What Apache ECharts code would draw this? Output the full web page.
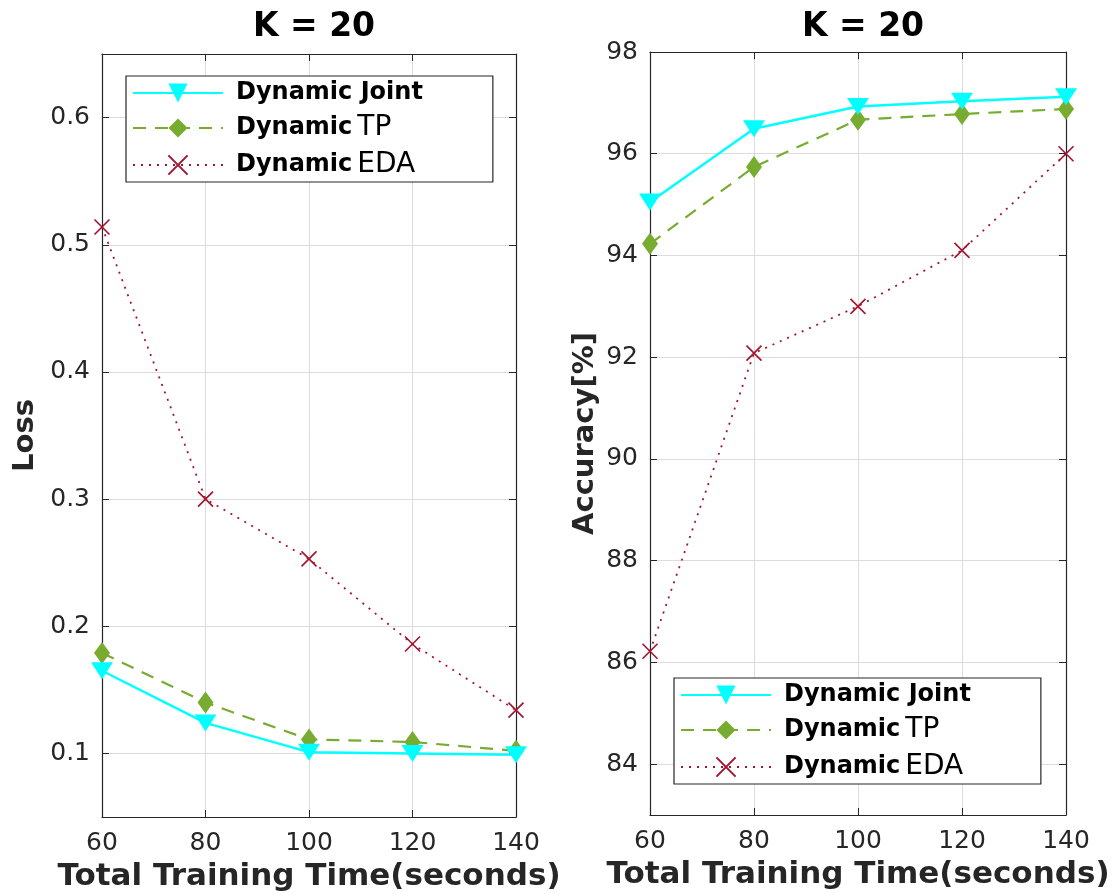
<!DOCTYPE html>
<html>
<head>
<meta charset="utf-8">
<title>K = 20</title>
<script src="https://cdn.jsdelivr.net/npm/echarts@6/dist/echarts.min.js"></script>
<style>
    html, body { margin: 0; padding: 0; background: #fff; }
    #sta_draw_echart { width: 1117px; height: 894px; }
</style>
</head>
<body>
<div id="sta_draw_echart"></div>
<script>
// x 轴 训练时间
var time_list = [60, 80, 100, 120, 140];

// 左图 Loss
var loss_joint = [0.165, 0.124, 0.101, 0.100, 0.099];
var loss_tp = [0.179, 0.140, 0.111, 0.109, 0.102];
var loss_eda = [0.514, 0.300, 0.253, 0.186, 0.134];

// 右图 Accuracy[%]
var acc_joint = [95.05, 96.49, 96.93, 97.03, 97.12];
var acc_tp = [94.23, 95.74, 96.67, 96.78, 96.88];
var acc_eda = [86.22, 92.08, 93.0, 94.1, 96.0];

var series_names = ['Dynamic Joint', 'Dynamic TP', 'Dynamic EDA'];

var font = 'DejaVu Sans';
var ink = '#262626';

// 拼成 [x, y]
function pairs(vals) {
    var out = [];
    for (var i = 0; i < time_list.length; i++) {
        out.push([time_list[i], vals[i]]);
    }
    return out;
}

// 三种线型
function mkSeries(name, vals, idx) {
    var s = {
        name: name,
        type: 'line',
        xAxisIndex: idx,
        yAxisIndex: idx,
        data: pairs(vals),
        z: 3
    };
    if (name == 'Dynamic Joint') {
        s.symbol = 'triangle';
        s.symbolRotate = 180;
        s.symbolSize = [22, 17];
        s.lineStyle = { color: '#00FFFF', width: 2.5 };
        s.itemStyle = { color: '#00FFFF' };
        s.z = 5;
    } else if (name == 'Dynamic TP') {
        s.symbol = 'diamond';
        s.symbolSize = [16, 22];
        s.lineStyle = { color: '#77AC30', width: 2.2, type: [13, 9] };
        s.itemStyle = { color: '#77AC30' };
        s.z = 4;
    } else {
        s.symbol = 'path://M0,0L10,10M0,10L10,0';
        s.symbolSize = 15;
        s.lineStyle = { color: '#A2142F', width: 1.8, type: [2, 6] };
        s.itemStyle = { color: '#A2142F', borderColor: '#A2142F', borderWidth: 1.6 };
    }
    return s;
}

function legendBox(left, top) {
    return {
        left: left,
        top: top,
        orient: 'vertical',
        data: series_names,
        backgroundColor: '#fff',
        borderColor: ink,
        borderWidth: 1.2,
        padding: [5, 70, 3, 6],
        itemWidth: 90,
        itemHeight: 24,
        itemGap: 9,
        selectedMode: false,
        formatter: function(name) {
            var p = name.split(' ');
            if (p[1] == 'Joint') return '{a|' + name + '}';
            return '{a|' + p[0] + '}{b|' + p[1] + '}';
        },
        textStyle: {
            rich: {
                a: { fontFamily: font, fontWeight: 'bold', fontSize: 24, color: '#000', padding: [0, 0, 0, 8] },
                b: { fontFamily: font, fontWeight: 'normal', fontSize: 28, color: '#000', padding: [0, 0, 0, 5] }
            }
        }
    };
}

function xAx(idx, pos, showLabel) {
    return {
        type: 'value',
        gridIndex: idx,
        position: pos,
        min: 60,
        max: 140,
        interval: 20,
        name: showLabel ? 'Total Training Time(seconds)' : '',
        nameLocation: 'middle',
        nameGap: 44,
        nameTextStyle: { fontFamily: font, fontWeight: 'bold', fontSize: 31, color: ink },
        axisLine: { show: true, lineStyle: { color: ink, width: 1.2 } },
        axisTick: { show: true, inside: true, length: 7, lineStyle: { color: ink } },
        axisLabel: { show: showLabel, fontFamily: font, fontSize: 25, color: ink, margin: 14 },
        splitLine: { show: showLabel, lineStyle: { color: '#dcdcdc', width: 1 } }
    };
}

function yAx(idx, pos, showLabel, mn, mx, split, name, gap) {
    return {
        type: 'value',
        gridIndex: idx,
        position: pos,
        min: mn,
        max: mx,
        splitNumber: split,
        name: showLabel ? name : '',
        nameLocation: 'middle',
        nameGap: gap,
        nameTextStyle: { fontFamily: font, fontWeight: 'bold', fontSize: 29, color: ink },
        axisLine: { show: true, lineStyle: { color: ink, width: 1.2 } },
        axisTick: { show: true, inside: true, length: 7, lineStyle: { color: ink } },
        axisLabel: { show: showLabel, showMinLabel: false, showMaxLabel: idx == 1, fontFamily: font, fontSize: 25, color: ink, margin: 12 },
        splitLine: { show: showLabel, lineStyle: { color: '#dcdcdc', width: 1 } }
    };
}

var series = [];
series.push(mkSeries(series_names[0], loss_joint, 0));
series.push(mkSeries(series_names[1], loss_tp, 0));
series.push(mkSeries(series_names[2], loss_eda, 0));
series.push(mkSeries(series_names[0], acc_joint, 1));
series.push(mkSeries(series_names[1], acc_tp, 1));
series.push(mkSeries(series_names[2], acc_eda, 1));

var myChart = echarts.init(document.getElementById('sta_draw_echart'));
var option = {
    animation: false,
    backgroundColor: '#fff',
    title: [
        { text: 'K = 20', left: 309, top: 6, textAlign: 'center', textStyle: { fontFamily: font, fontWeight: 'bold', fontSize: 33, color: '#000' } },
        { text: 'K = 20', left: 858, top: 6, textAlign: 'center', textStyle: { fontFamily: font, fontWeight: 'bold', fontSize: 33, color: '#000' } }
    ],
    legend: [legendBox(126, 76), legendBox(674, 678)],
    grid: [
        { left: 102, top: 54, width: 414, height: 763, outerBoundsMode: 'none' },
        { left: 650, top: 52, width: 416, height: 763, outerBoundsMode: 'none' }
    ],
    xAxis: [xAx(0, 'bottom', true), xAx(1, 'bottom', true), xAx(0, 'top', false), xAx(1, 'top', false)],
    yAxis: [
        yAx(0, 'left', true, 0.05, 0.65, 6, 'Loss', 62),
        yAx(1, 'left', true, 83, 98, 7, 'Accuracy[%]', 50),
        yAx(0, 'right', false, 0.05, 0.65, 6, '', 0),
        yAx(1, 'right', false, 83, 98, 7, '', 0)
    ],
    series: series
};
myChart.setOption(option);
</script>
</body>
</html>
